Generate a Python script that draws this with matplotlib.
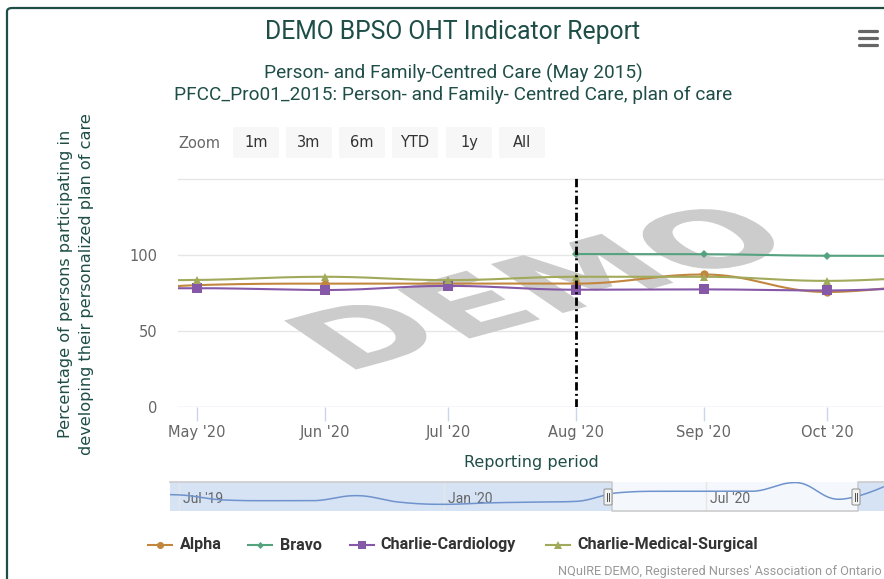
import numpy as np
import matplotlib
matplotlib.use("Agg")
import matplotlib.pyplot as plt
import matplotlib.dates as mdates
from matplotlib.patches import FancyBboxPatch, PathPatch
from matplotlib.textpath import TextPath
from matplotlib.font_manager import FontProperties
from matplotlib.transforms import Affine2D
from matplotlib.lines import Line2D
from datetime import date

# ---------------- data ----------------
title = "DEMO BPSO OHT Indicator Report"
subtitle_1 = "Person- and Family-Centred Care (May 2015)"
subtitle_2 = "PFCC_Pro01_2015: Person- and Family- Centred Care, plan of care"
y_label = "Percentage of persons participating in\ndeveloping their personalized plan of care"
x_label = "Reporting period"
credits = "NQuIRE DEMO, Registered Nurses' Association of Ontario"
zoom_buttons = ["1m", "3m", "6m", "YTD", "1y", "All"]

series_names = ["Alpha", "Bravo", "Charlie-Cardiology", "Charlie-Medical-Surgical"]
series_colors = ["#c2873f", "#55a27f", "#8659a8", "#a1a95a"]
series_markers = ["o", "D", "s", "^"]
series_msize = [6.0, 4.2, 6.8, 6.2]

# Alpha has the longest history (Jun 2019 - Nov 2020)
alpha_months = [(2019, m) for m in range(6, 13)] + [(2020, m) for m in range(1, 12)]
alpha = [79, 78.5, 75, 74.5, 74.5, 78, 73.5, 72, 73, 73.5, 74,
         80, 81, 81, 81, 87, 75.5, 84]

# Other series, Apr 2020 - Nov 2020
months_2020 = [(2020, m) for m in range(4, 12)]
bravo = [None, None, None, None, 100.4, 100.3, 99.3, 99.2]
charlie_cardiology = [78, 78, 76.8, 79.5, 77, 77.2, 76.5, 80]
charlie_med_surg = [83, 83.4, 85.5, 83.3, 85.5, 85.5, 82.8, 87]

y_ticks = [0, 50, 100, 150]
x_tick_months = [(2020, m) for m in range(5, 11)]
nav_tick_months = [(2019, 7), (2020, 1), (2020, 7)]
plot_line_month = (2020, 8)

W, H = 884, 579
TEAL = "#1e4e47"


def d2n(ym):
    return mdates.date2num(date(ym[0], ym[1], 1))


def hc_spline(xs, ys, smoothing=1.5, n=40):
    """Highcharts-style spline through the points."""
    xs = list(xs); ys = list(ys)
    k = len(xs)
    lc = [None] * k
    rc = [None] * k
    den = smoothing + 1
    for i in range(1, k - 1):
        px, py = xs[i], ys[i]
        lx, ly = xs[i - 1], ys[i - 1]
        nx, ny = xs[i + 1], ys[i + 1]
        lcx = (smoothing * px + lx) / den
        lcy = (smoothing * py + ly) / den
        rcx = (smoothing * px + nx) / den
        rcy = (smoothing * py + ny) / den
        if rcx != lcx:
            corr = ((rcy - lcy) * (rcx - px)) / (rcx - lcx) + py - rcy
            lcy += corr
            rcy += corr
        if lcy > ly and lcy > py:
            lcy = max(ly, py); rcy = 2 * py - lcy
        elif lcy < ly and lcy < py:
            lcy = min(ly, py); rcy = 2 * py - lcy
        if rcy > ny and rcy > py:
            rcy = max(ny, py); lcy = 2 * py - rcy
        elif rcy < ny and rcy < py:
            rcy = min(ny, py); lcy = 2 * py - rcy
        lc[i] = (lcx, lcy)
        rc[i] = (rcx, rcy)
    outx, outy = [xs[0]], [ys[0]]
    t = np.linspace(0, 1, n)[1:]
    for i in range(1, k):
        p0 = np.array([xs[i - 1], ys[i - 1]])
        p3 = np.array([xs[i], ys[i]])
        p1 = np.array(rc[i - 1]) if rc[i - 1] is not None else p0
        p2 = np.array(lc[i]) if lc[i] is not None else p3
        for tt in t:
            b = ((1 - tt) ** 3) * p0 + 3 * ((1 - tt) ** 2) * tt * p1 + 3 * (1 - tt) * tt ** 2 * p2 + tt ** 3 * p3
            outx.append(b[0]); outy.append(b[1])
    return np.array(outx), np.array(outy)


def fx(x):
    return x / W


def fy(y):
    return 1 - y / H


plt.rcParams["font.family"] = ["DejaVu Sans"]
NARROW = ["Roboto", "DejaVu Sans"]

fig = plt.figure(figsize=(W / 100, H / 100), dpi=100)
fig.patch.set_facecolor("white")

# outer frame
frame = FancyBboxPatch((fx(7), fy(700)), fx(1000), fy(8) - fy(700),
                       boxstyle="round,pad=0,rounding_size=0.006",
                       transform=fig.transFigure, fill=False,
                       edgecolor=TEAL, linewidth=1.6, clip_on=False)
fig.add_artist(frame)

# titles
fig.text(fx(453), fy(32), title, ha="center", va="center", fontsize=17.8,
         color=TEAL, family=NARROW)
fig.text(fx(453), fy(73), subtitle_1, ha="center", va="center", fontsize=13.7,
         color=TEAL, family=NARROW)
fig.text(fx(453), fy(95), subtitle_2, ha="center", va="center", fontsize=13.7,
         color=TEAL, family=NARROW)

# export menu icon
for yy in (31, 38, 45):
    fig.add_artist(Line2D([fx(859), fx(877)], [fy(yy), fy(yy)], color="#666666",
                          lw=2.3, solid_capstyle="round", transform=fig.transFigure))

# range selector buttons
fig.text(fx(178), fy(143), "Zoom", ha="left", va="center", fontsize=10.5, color="#666666")
btn_x = [233, 286, 339, 392, 446, 499]
for bx, lab in zip(btn_x, zoom_buttons):
    fig.add_artist(FancyBboxPatch((fx(bx), fy(158)), fx(46), fy(127) - fy(158),
                                  boxstyle="round,pad=0,rounding_size=0.002",
                                  transform=fig.transFigure, facecolor="#f7f7f7",
                                  edgecolor="none"))
    fig.text(fx(bx + 23), fy(142), lab, ha="center", va="center", fontsize=10.5, color="#333333")

# ---------------- main axes ----------------
ax = fig.add_axes([fx(178), fy(407), fx(884) - fx(178), fy(177) - fy(407)])
for s in ax.spines.values():
    s.set_visible(False)
ax.set_yticks(y_ticks[:-1])
ax.set_yticklabels([str(v) for v in y_ticks[:-1]])
ax.tick_params(axis="y", length=0, pad=15, labelsize=10.5, labelcolor="#666666")
ax.set_xticks([d2n(m) for m in x_tick_months])
ax.set_xticklabels([date(*m, 1).strftime("%b '%y") for m in x_tick_months])
ax.tick_params(axis="x", length=10, width=1, color="#ccd6eb", pad=3,
               labelsize=10.5, labelcolor="#666666")
x_left = d2n((2020, 5)) - 4.6
x_right = d2n((2020, 10)) + 13.8
ax.set_xlim(x_left, x_right)
ax.set_ylim(0, 151)
ax.axhline(0, color="#ccd6eb", lw=1.0, zorder=2)
for yt in y_ticks[1:]:
    ax.axhline(yt, color="#e6e6e6", lw=1.0, zorder=0)
ax.set_facecolor("none")

# watermark
wm_prop = FontProperties(family="DejaVu Sans", weight="bold")
wm_path = TextPath((0, 0), "DEMO", size=100, prop=wm_prop)
tr = Affine2D().scale(1.35, 1.0).skew_deg(-33, 0).rotate_deg(18)
p = tr.transform_path(wm_path)
v = p.vertices
x0, y0 = v[:, 0].min(), v[:, 1].min()
x1, y1 = v[:, 0].max(), v[:, 1].max()
tx0, tx1 = 284, 777
ty0, ty1 = H - 373, H - 207
fit = Affine2D().translate(-x0, -y0).scale((tx1 - tx0) / (x1 - x0), (ty1 - ty0) / (y1 - y0)).translate(tx0, ty0)
p = fit.transform_path(p)
wm = PathPatch(p, facecolor="#cccccc", edgecolor="none", zorder=1.5,
               transform=Affine2D().scale(1 / 100) + fig.dpi_scale_trans)
wm.set_clip_on(False)
ax.add_artist(wm)

# data series
all_series = [
    (alpha_months, alpha),
    (months_2020, bravo),
    (months_2020, charlie_cardiology),
    (months_2020, charlie_med_surg),
]
for (months, vals), col, mk, ms in zip(all_series, series_colors, series_markers, series_msize):
    xs = [d2n(m) for m, v in zip(months, vals) if v is not None]
    ys = [v for v in vals if v is not None]
    sx, sy = hc_spline(xs, ys)
    ax.plot(sx, sy, color=col, lw=1.5, zorder=3, solid_capstyle="round")
    ax.plot(xs, ys, linestyle="none", marker=mk, markersize=ms, color=col,
            markeredgewidth=0, zorder=4)
ax.set_xlim(x_left, x_right)

# vertical plot line
ax.axvline(d2n(plot_line_month), color="black", lw=2.0,
           linestyle=(0, (3, 1.2, 0.7, 1.2)), zorder=5)

# axis labels
fig.text(fx(76), fy(284), y_label, rotation=90, ha="center", va="center",
         fontsize=11.6, color=TEAL, linespacing=1.5)
fig.text(fx(531), fy(462), x_label, ha="center", va="center", fontsize=11.5, color=TEAL)

# ---------------- navigator ----------------
nav = fig.add_axes([fx(170), fy(511), fx(884) - fx(170), fy(482) - fy(511)])
jan20 = d2n((2020, 1))
nl, nr = jan20 - (444 - 170) / 1.44, jan20 + (884 - 444) / 1.44
nav.set_facecolor("#f4f7fc")
for s in nav.spines.values():
    s.set_visible(False)
nav.set_xticks([])
nav.set_yticks([])
nav.set_xlim(nl, nr)
nav.set_ylim(67.4, 87.4)
sel_lo = x_left
sel_hi = x_right
nav.axvspan(nl, sel_lo, color="#d6e3f5", zorder=0, lw=0)
nav.axvspan(sel_hi, nr, color="#d6e3f5", zorder=0, lw=0)
for m in nav_tick_months:
    nav.axvline(d2n(m), color="#e6e6e6", lw=1.0, zorder=1)
    nav.text(d2n(m) + 2.5, 75.5, date(*m, 1).strftime("%b '%y"), ha="left", va="center",
             fontsize=10, color="#666666", family=NARROW, zorder=1.5)
nx_, ny_ = hc_spline([d2n(m) for m in alpha_months], alpha)
nav.plot(nx_, ny_, color="#6f93cc", lw=1.1, zorder=2)
nav.plot([nl, sel_lo, sel_lo, sel_hi, sel_hi, nr],
         [87.4, 87.4, 67.4, 67.4, 87.4, 87.4], color="#cccccc", lw=1.2,
         zorder=3, clip_on=False)
nav.set_xlim(nl, nr)
nav.set_ylim(67.4, 87.4)
# handles
for hx in (608, 856):
    fig.add_artist(FancyBboxPatch((fx(hx - 4), fy(505)), fx(8), fy(489) - fy(505),
                                  boxstyle="round,pad=0,rounding_size=0.002",
                                  transform=fig.transFigure, facecolor="#f2f2f2",
                                  edgecolor="#999999", lw=0.8, zorder=5))
    for dx in (-1.2, 1.2):
        fig.add_artist(Line2D([fx(hx + dx), fx(hx + dx)], [fy(493), fy(501)],
                              color="#333333", lw=0.6, transform=fig.transFigure, zorder=6))

# ---------------- legend ----------------
leg_line_x = [148, 248, 350, 546]
leg_text_x = [180, 280, 380, 577]
for name, col, mk, ms, lx, tx in zip(series_names, series_colors, series_markers,
                                      series_msize, leg_line_x, leg_text_x):
    fig.add_artist(Line2D([fx(lx), fx(lx + 24)], [fy(545), fy(545)], color=col, lw=1.5,
                          transform=fig.transFigure))
    fig.add_artist(Line2D([fx(lx + 12)], [fy(545)], marker=mk, markersize=ms * 0.85,
                          color=col, markeredgewidth=0, transform=fig.transFigure))
    fig.text(fx(tx), fy(545), name, ha="left", va="center", fontsize=11.6,
             fontweight="bold", color="#333333", family=NARROW)

fig.text(fx(882), fy(572), credits, ha="right", va="center", fontsize=9.2,
         color="#999999", family=NARROW)

fig.savefig("out.png", dpi=100)
